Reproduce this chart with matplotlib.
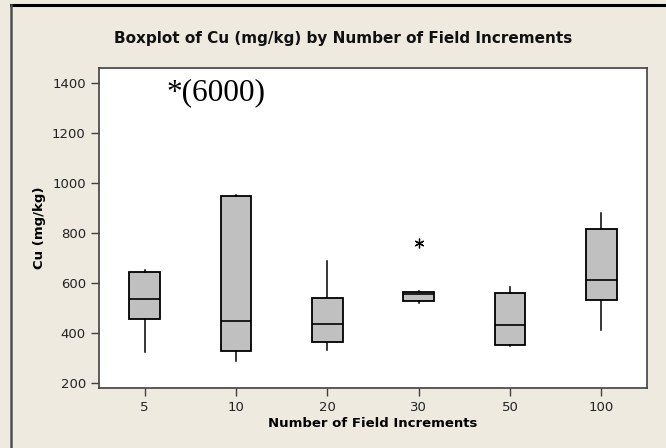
import matplotlib
matplotlib.use("Agg")
import matplotlib.pyplot as plt
from matplotlib.lines import Line2D

# Cu (mg/kg) summary for each number of field increments
groups = ["5", "10", "20", "30", "50", "100"]
q1 = [457, 328, 365, 527, 354, 532]
medians = [537, 448, 436, 557, 434, 611]
q3 = [644, 950, 540, 565, 559, 816]
whislo = [326, 290, 333, 519, 349, 414]
whishi = [653, 953, 690, 567, 584, 880]
outliers = [[], [], [], [762], [], []]

stats = []
for i, g in enumerate(groups):
    stats.append({
        "label": g, "q1": q1[i], "med": medians[i], "q3": q3[i],
        "whislo": whislo[i], "whishi": whishi[i], "fliers": outliers[i],
    })

bg = "#EEEAE0"
plt.rcParams["font.family"] = "DejaVu Sans"

fig = plt.figure(figsize=(6.66, 4.48), dpi=100, facecolor=bg)
ax = fig.add_axes([99 / 666, 60 / 448, 548 / 666, 320 / 448])
ax.set_facecolor("white")

ax.bxp(stats, widths=0.335, patch_artist=True, showcaps=False,
       boxprops=dict(facecolor="#C0C0C0", edgecolor="black", linewidth=1.3),
       medianprops=dict(color="black", linewidth=1.2),
       whiskerprops=dict(color="black", linewidth=1.1),
       flierprops=dict(marker=(6, 2, 0), markersize=7, markeredgecolor="black",
                       markeredgewidth=0.9))

ax.set_xlim(0.5, 6.5)
ax.set_ylim(180, 1462)
ax.set_yticks(range(200, 1401, 200))

for s in ax.spines.values():
    s.set_color("#404040")
    s.set_linewidth(1.2)
ax.tick_params(direction="out", length=6, width=1, colors="#404040",
               labelcolor="#222222", labelsize=9.5)

ax.set_xlabel("Number of Field Increments", fontsize=9.5, fontweight="bold",
              labelpad=2)
ax.set_ylabel("Cu (mg/kg)", fontsize=9.5, fontweight="bold", labelpad=4)

fig.text(343 / 666, 1 - 38 / 448, "Boxplot of Cu (mg/kg) by Number of Field Increments",
         ha="center", va="center", fontsize=11, fontweight="bold", color="#111111")

# the extreme value that falls far off the scale
ax.text(1.234, 1362, "*(6000)", ha="left", va="center",
        fontsize=22.5, family="Liberation Serif")

# outer frame: black top edge, grey left edge
fig.add_artist(Line2D([11 / 666, 1], [1 - 5 / 448, 1 - 5 / 448],
                      transform=fig.transFigure, color="black", linewidth=2.2))
fig.add_artist(Line2D([11 / 666, 11 / 666], [0, 1 - 5 / 448],
                      transform=fig.transFigure, color="#505050", linewidth=1.8))

fig.savefig("out.png", dpi=100, facecolor=bg)
